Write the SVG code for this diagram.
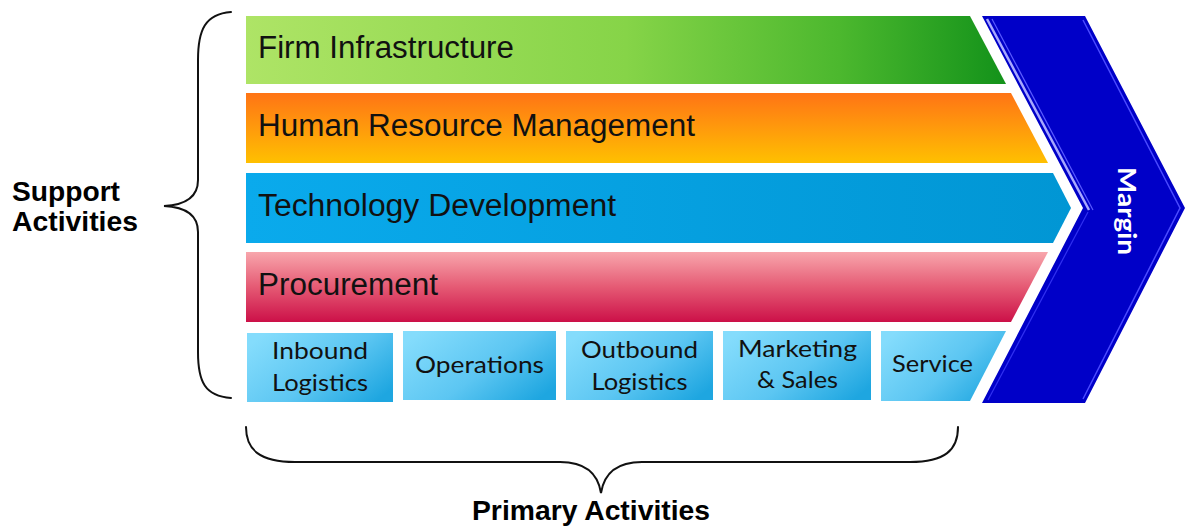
<svg xmlns="http://www.w3.org/2000/svg" width="1186" height="528" viewBox="0 0 1186 528">
  <defs>
    <linearGradient id="gFirm" x1="0" y1="0" x2="1" y2="0">
      <stop offset="0" stop-color="#aee466"/>
      <stop offset="0.5" stop-color="#86d448"/>
      <stop offset="0.78" stop-color="#4cb82e"/>
      <stop offset="1" stop-color="#13921a"/>
    </linearGradient>
    <linearGradient id="gHrm" x1="0" y1="0" x2="0" y2="1">
      <stop offset="0" stop-color="#ff7415"/>
      <stop offset="0.5" stop-color="#ff9a0c"/>
      <stop offset="1" stop-color="#ffc000"/>
    </linearGradient>
    <linearGradient id="gTech" x1="0" y1="0" x2="1" y2="0">
      <stop offset="0" stop-color="#0aaaec"/>
      <stop offset="1" stop-color="#0196d4"/>
    </linearGradient>
    <linearGradient id="gProc" x1="0" y1="0" x2="0" y2="1">
      <stop offset="0" stop-color="#f8a6ac"/>
      <stop offset="0.5" stop-color="#e55a74"/>
      <stop offset="1" stop-color="#cc1048"/>
    </linearGradient>
    <linearGradient id="gPrim" x1="0" y1="0.2" x2="1" y2="0.8">
      <stop offset="0" stop-color="#84dcfc"/>
      <stop offset="0.55" stop-color="#5cc6f2"/>
      <stop offset="1" stop-color="#1ea6e0"/>
    </linearGradient>
    <style>
      .band { font-family: "Liberation Sans", Arial, sans-serif; font-size: 31px; fill: #111; }
      .prim { font-family: Lato, "Liberation Sans", sans-serif; font-size: 24px; fill: #111; text-anchor: middle; }
      .label { font-family: "Liberation Sans", Arial, sans-serif; font-weight: bold; font-size: 28px; fill: #000; }
      .brace { fill: none; stroke: #111; stroke-width: 2; stroke-linecap: round; }
    </style>
  </defs>

  <rect width="1186" height="528" fill="#fff"/>

  <!-- Support activity bands -->
  <g id="firm-infrastructure">
    <path d="M246,16 L970,16 L1006,84 L246,84 Z" fill="url(#gFirm)"/>
    <text class="band" x="258" y="58" textLength="256" lengthAdjust="spacingAndGlyphs">Firm Infrastructure</text>
  </g>
  <g id="human-resource-management">
    <path d="M246,93 L1011,93 L1048,163 L246,163 Z" fill="url(#gHrm)"/>
    <text class="band" x="258" y="136" textLength="437" lengthAdjust="spacingAndGlyphs">Human Resource Management</text>
  </g>
  <g id="technology-development">
    <path d="M246,173 L1053,173 L1071,208 L1053,243 L246,243 Z" fill="url(#gTech)"/>
    <text class="band" x="258" y="216" textLength="358" lengthAdjust="spacingAndGlyphs">Technology Development</text>
  </g>
  <g id="procurement">
    <path d="M246,252 L1048,252 L1011,322 L246,322 Z" fill="url(#gProc)"/>
    <text class="band" x="258" y="295" textLength="180" lengthAdjust="spacingAndGlyphs">Procurement</text>
  </g>

  <!-- Primary activities -->
  <g id="inbound-logistics">
    <rect x="247" y="333" width="146" height="69" fill="url(#gPrim)"/>
    <text class="prim" x="320" y="359" textLength="96" lengthAdjust="spacingAndGlyphs">Inbound</text>
    <text class="prim" x="320" y="391" textLength="96" lengthAdjust="spacingAndGlyphs">Logistics</text>
  </g>
  <g id="operations">
    <rect x="403" y="331" width="153" height="69" fill="url(#gPrim)"/>
    <text class="prim" x="479.5" y="373" textLength="129" lengthAdjust="spacingAndGlyphs">Operations</text>
  </g>
  <g id="outbound-logistics">
    <rect x="566" y="331" width="147" height="69" fill="url(#gPrim)"/>
    <text class="prim" x="639.5" y="358" textLength="117" lengthAdjust="spacingAndGlyphs">Outbound</text>
    <text class="prim" x="639.5" y="390" textLength="96" lengthAdjust="spacingAndGlyphs">Logistics</text>
  </g>
  <g id="marketing-sales">
    <rect x="723" y="331" width="148" height="69" fill="url(#gPrim)"/>
    <text class="prim" x="797.5" y="357" textLength="119" lengthAdjust="spacingAndGlyphs">Marketing</text>
    <text class="prim" x="797.5" y="388" textLength="81" lengthAdjust="spacingAndGlyphs">&amp; Sales</text>
  </g>
  <g id="service">
    <path d="M881,331 L1006,331 L970,401 L881,401 Z" fill="url(#gPrim)"/>
    <text class="prim" x="932.5" y="372" textLength="81" lengthAdjust="spacingAndGlyphs">Service</text>
  </g>

  <!-- Margin chevron -->
  <g id="margin">
    <path d="M982,16 L1085,16 L1185,208 L1085,403 L982,403 L1083,208 Z" fill="#0000c8"/>
    <path d="M1083,20 L1180,208 L1083,399" fill="none" stroke="#4a4aff" stroke-width="1.5"/>
    <path d="M987,19 L1089,210" fill="none" stroke="#a8a8ff" stroke-width="2.5"/>
    <path d="M992,19 L1093,210" fill="none" stroke="#5a5aff" stroke-width="1.2"/>
    <path d="M988,400 L1088,212" fill="none" stroke="#3030f0" stroke-width="1.2"/>
    <text transform="translate(1118,211) rotate(90)" text-anchor="middle" font-family="Lato, 'Liberation Sans', sans-serif" font-weight="bold" font-size="25" fill="#fff" textLength="88" lengthAdjust="spacingAndGlyphs">Margin</text>
  </g>

  <!-- Braces and group labels -->
  <g id="connectors">
    <path class="brace" d="M231,12 C205,14 198,30 198,60 L198,180 C198,198 185,205 164,206 C185,207 198,214 198,232 L198,352 C198,382 205,396 231,398"/>
    <path class="brace" d="M246,427 C246,450 260,462 295,462 L560,462 C586,462 598,474 601,493 C604,474 616,462 642,462 L910,462 C945,462 958,450 958,427"/>
  </g>
  <g id="support-activities">
    <text class="label" x="12" y="201" textLength="108" lengthAdjust="spacingAndGlyphs">Support</text>
    <text class="label" x="12" y="231" textLength="126" lengthAdjust="spacingAndGlyphs">Activities</text>
  </g>
  <g id="primary-activities">
    <text class="label" x="472" y="520" font-size="26" textLength="238" lengthAdjust="spacingAndGlyphs">Primary Activities</text>
  </g>
</svg>
